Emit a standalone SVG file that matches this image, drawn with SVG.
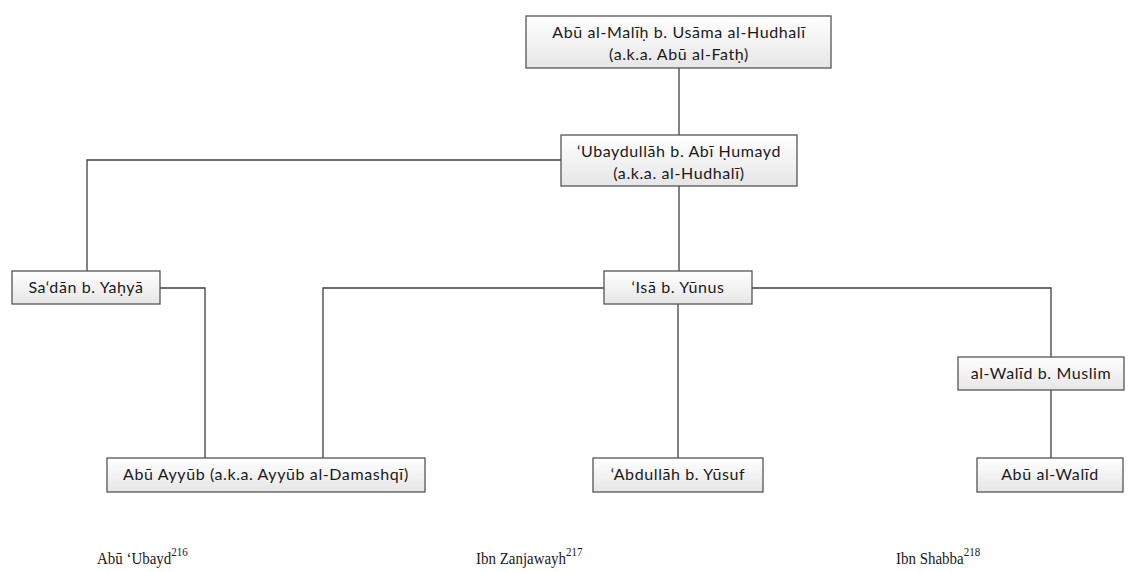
<svg xmlns="http://www.w3.org/2000/svg" width="1131" height="572" viewBox="0 0 1131 572">
<defs>
<linearGradient id="g" x1="0" y1="0" x2="0" y2="1">
<stop offset="0" stop-color="#ffffff"/>
<stop offset="1" stop-color="#e6e6e6"/>
</linearGradient>
<style>
.box{fill:url(#g);stroke:#555555;stroke-width:1.3}
.t{font-family:Lato,"Noto Sans",sans-serif;font-size:16px;letter-spacing:0.6px;fill:#1a1a1a;text-anchor:middle}
.c{fill:none;stroke:#404040;stroke-width:1.3}
.s{font-family:"Liberation Serif",serif;font-size:17px;fill:#1a1a1a}
.sup{font-size:12.5px}
</style>
</defs>
<rect width="1131" height="572" fill="#ffffff"/>
<g id="connectors">
<path class="c" d="M679,68 V135"/>
<path class="c" d="M561,160 H87 V271"/>
<path class="c" d="M679,186 V271"/>
<path class="c" d="M160,288 H205 V458"/>
<path class="c" d="M604,288 H323 V458"/>
<path class="c" d="M752,288 H1051 V357"/>
<path class="c" d="M678,304 V458"/>
<path class="c" d="M1051,390 V458"/>
</g>
<g id="n-malih">
<rect class="box" x="526" y="16" width="305" height="52"/>
<text class="t" x="679" y="38">Abū al-Malīḥ b. Usāma al-Hudhalī</text>
<text class="t" x="679" y="60">(a.k.a. Abū al-Fatḥ)</text>
</g>
<g id="n-ubaydullah">
<rect class="box" x="561" y="135" width="236" height="51"/>
<text class="t" x="679" y="157">‘Ubaydullāh b. Abī  Ḥumayd</text>
<text class="t" x="679" y="179">(a.k.a. al-Hudhalī)</text>
</g>
<g id="n-sadan">
<rect class="box" x="12" y="271" width="148" height="33"/>
<text class="t" x="86" y="293">Sa‘dān b. Yaḥyā</text>
</g>
<g id="n-isa">
<rect class="box" x="604" y="271" width="148" height="33"/>
<text class="t" x="678" y="293">‘Isā  b. Yūnus</text>
</g>
<g id="n-walid">
<rect class="box" x="958" y="357" width="166" height="33"/>
<text class="t" x="1041" y="379">al-Walīd b. Muslim</text>
</g>
<g id="n-ayyub">
<rect class="box" x="107" y="458" width="318" height="34"/>
<text class="t" x="266" y="480">Abū Ayyūb (a.k.a. Ayyūb al-Damashqī)</text>
</g>
<g id="n-abdullah">
<rect class="box" x="593" y="458" width="170" height="34"/>
<text class="t" x="678" y="480">‘Abdullāh b. Yūsuf</text>
</g>
<g id="n-abuwalid">
<rect class="box" x="977" y="458" width="146" height="34"/>
<text class="t" x="1050" y="480">Abū  al-Walīd</text>
</g>
<g id="sources">
<text class="s" transform="translate(97,564) scale(0.88,1)">Abū ‘Ubayd<tspan class="sup" dy="-8">216</tspan></text>
<text class="s" transform="translate(476,564) scale(0.88,1)">Ibn Zanjawayh<tspan class="sup" dy="-8">217</tspan></text>
<text class="s" transform="translate(896,564) scale(0.88,1)">Ibn Shabba<tspan class="sup" dy="-8">218</tspan></text>
</g>
</svg>
